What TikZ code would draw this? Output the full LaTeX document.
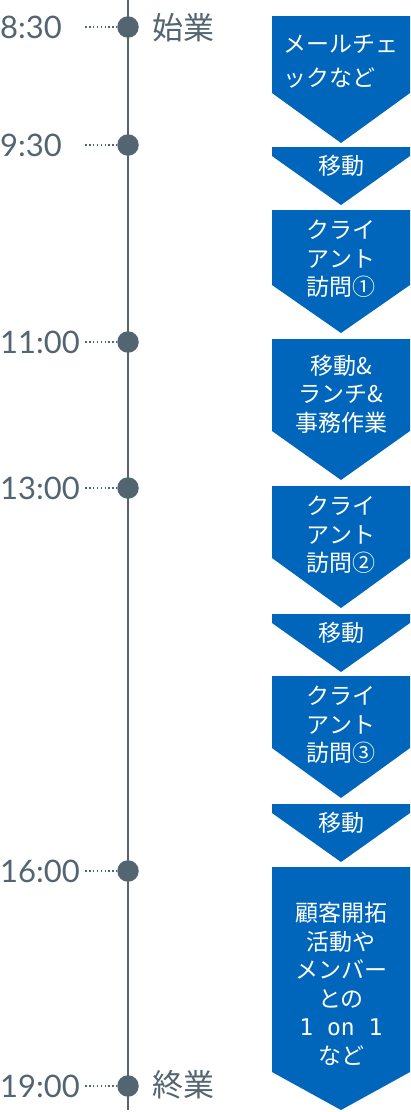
\documentclass[tikz,border=0pt]{standalone}
\usepackage{fontspec}
\newfontfamily\jpfont{Noto Sans CJK JP}
\newfontfamily\timefont{Lato}
\newfontfamily\monofont{DejaVu Sans Mono}
\definecolor{boxblue}{RGB}{0,102,187}
\definecolor{linegray}{RGB}{82,101,112}
\newcommand\pentabox[3]{\fill[boxblue] (272,#1) -- (410,#1) -- (410,#2) -- (341,#3) -- (272,#2) -- cycle;}
\tikzset{
  timelabel/.style={anchor=base west, inner sep=0pt, text=linegray, font=\timefont\fontsize{31}{31}\selectfont},
  eventlabel/.style={anchor=west, inner sep=0pt, text=linegray, font=\jpfont\fontsize{31}{31}\selectfont},
  boxtext/.style={inner sep=0pt, text=white, align=center, font=\jpfont\fontsize{23}{28.5}\selectfont},
  dotline/.style={linegray, line width=1.6pt, dash pattern=on 1.6pt off 2.3pt},
  tdot/.style={circle, fill=linegray, minimum size=21.5pt, inner sep=0pt}
}
\begin{document}
\begin{tikzpicture}[x=1pt,y=-1pt]
\useasboundingbox (0,0) rectangle (410,1112);
% timeline
\draw[linegray, line width=2pt] (128,0) -- (128,1110);
\foreach \n/\y/\t in {a/27/8:30, b/145/9:30, c/342/11:00, d/488/13:00, e/871/16:00, f/1086/19:00}{
  \node[tdot] (dot\n) at (128,\y) {};
  \coordinate (ds\n) at (85,\y);
  \draw[dotline] (ds\n) -- (117,\y);
  \node[timelabel] (time\n) at (0,\y+11) {\t};
}
\node[eventlabel] (start) at (152,28) {始業};
\node[eventlabel] (end) at (152,1085) {終業};
% arrows
\pentabox{16}{93}{143}
\pentabox{147}{156}{205}
\pentabox{210}{285}{333}
\pentabox{339}{431}{480}
\pentabox{486}{558}{608}
\pentabox{614}{623}{672}
\pentabox{676}{748}{798}
\pentabox{804}{813}{862}
\pentabox{867}{1072}{1110}
\node[boxtext, align=left, font=\jpfont\fontsize{23}{34}\selectfont] (t1) at (341,62) {メールチェ\\ックなど};
\node[boxtext] (t2) at (341,166) {移動};
\node[boxtext] (t3) at (341,259) {クライ\\アント\\訪問①};
\node[boxtext] (t4) at (341,394) {移動\&\\ランチ\&\\事務作業};
\node[boxtext] (t5) at (341,535) {クライ\\アント\\訪問②};
\node[boxtext] (t6) at (341,633) {移動};
\node[boxtext] (t7) at (341,725) {クライ\\アント\\訪問③};
\node[boxtext] (t8) at (341,823) {移動};
\node[boxtext] (t9) at (341,984) {顧客開拓\\活動や\\メンバー\\との\\{\monofont 1 on 1}\\など};
\end{tikzpicture}
\end{document}
